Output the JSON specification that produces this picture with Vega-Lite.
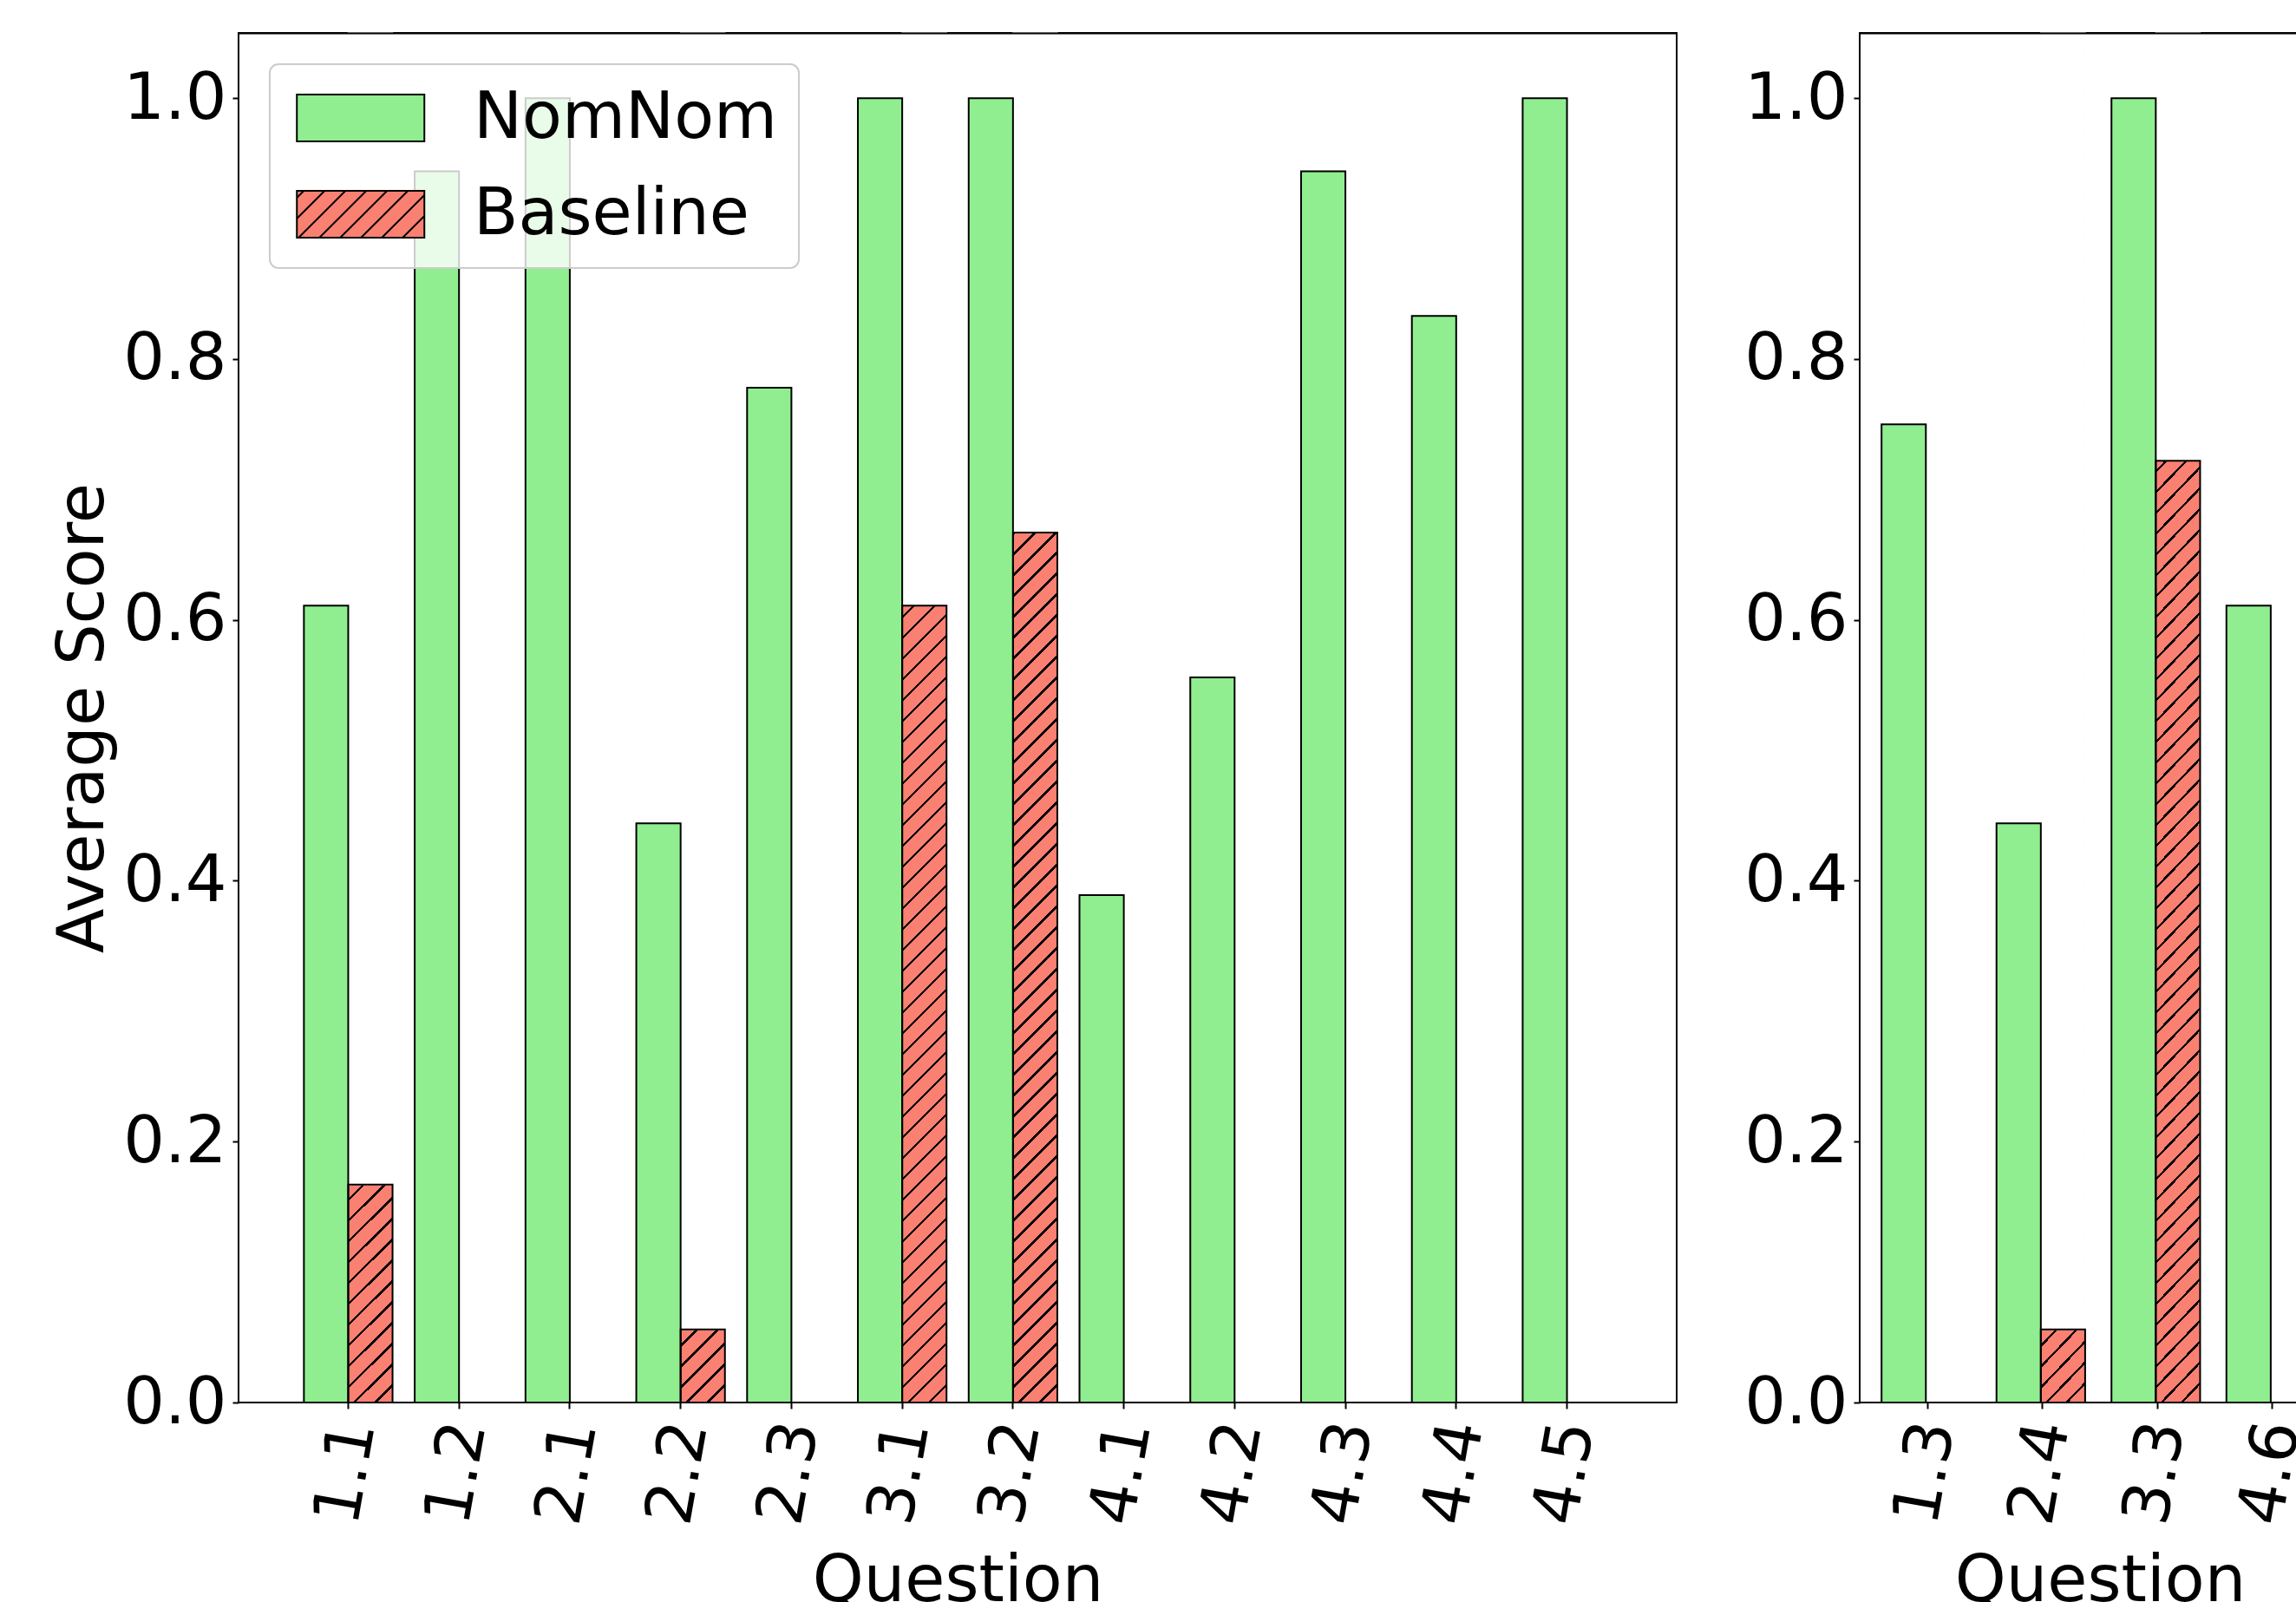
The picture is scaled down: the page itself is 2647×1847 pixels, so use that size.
{
  "$schema": "https://vega.github.io/schema/vega-lite/v6.json",
  "background": "white",
  "padding": {"left": 57, "top": 36, "right": 5, "bottom": 5},
  "datasets": {
    "scores": [
      {"panel": "A", "question": "1.1", "method": "NomNom", "score": 0.611},
      {"panel": "A", "question": "1.1", "method": "Baseline", "score": 0.167},
      {"panel": "A", "question": "1.2", "method": "NomNom", "score": 0.944},
      {"panel": "A", "question": "1.2", "method": "Baseline", "score": 0},
      {"panel": "A", "question": "2.1", "method": "NomNom", "score": 1.0},
      {"panel": "A", "question": "2.1", "method": "Baseline", "score": 0},
      {"panel": "A", "question": "2.2", "method": "NomNom", "score": 0.444},
      {"panel": "A", "question": "2.2", "method": "Baseline", "score": 0.056},
      {"panel": "A", "question": "2.3", "method": "NomNom", "score": 0.778},
      {"panel": "A", "question": "2.3", "method": "Baseline", "score": 0},
      {"panel": "A", "question": "3.1", "method": "NomNom", "score": 1.0},
      {"panel": "A", "question": "3.1", "method": "Baseline", "score": 0.611},
      {"panel": "A", "question": "3.2", "method": "NomNom", "score": 1.0},
      {"panel": "A", "question": "3.2", "method": "Baseline", "score": 0.667},
      {"panel": "A", "question": "4.1", "method": "NomNom", "score": 0.389},
      {"panel": "A", "question": "4.1", "method": "Baseline", "score": 0},
      {"panel": "A", "question": "4.2", "method": "NomNom", "score": 0.556},
      {"panel": "A", "question": "4.2", "method": "Baseline", "score": 0},
      {"panel": "A", "question": "4.3", "method": "NomNom", "score": 0.944},
      {"panel": "A", "question": "4.3", "method": "Baseline", "score": 0},
      {"panel": "A", "question": "4.4", "method": "NomNom", "score": 0.833},
      {"panel": "A", "question": "4.4", "method": "Baseline", "score": 0},
      {"panel": "A", "question": "4.5", "method": "NomNom", "score": 1.0},
      {"panel": "A", "question": "4.5", "method": "Baseline", "score": 0},
      {"panel": "B", "question": "1.3", "method": "NomNom", "score": 0.75},
      {"panel": "B", "question": "1.3", "method": "Baseline", "score": 0},
      {"panel": "B", "question": "2.4", "method": "NomNom", "score": 0.444},
      {"panel": "B", "question": "2.4", "method": "Baseline", "score": 0.056},
      {"panel": "B", "question": "3.3", "method": "NomNom", "score": 1.0},
      {"panel": "B", "question": "3.3", "method": "Baseline", "score": 0.722},
      {"panel": "B", "question": "4.6", "method": "NomNom", "score": 0.611},
      {"panel": "B", "question": "4.6", "method": "Baseline", "score": 0}
    ]
  },
  "hconcat": [
    {
      "width": 1658,
      "height": 1579,
      "data": {"name": "scores"},
      "transform": [{"filter": "datum.panel === 'A'"}],
      "layer": [
        {
          "transform": [{"filter": "datum.method === 'Baseline' && datum.score > 0"}],
          "mark": {"type": "bar", "strokeWidth": 0, "fill": {
          "gradient": "linear", "x1": 0, "y1": 0, "x2": 0.03337, "y2": 1.03249,
          "stops": [
{"offset":0,"color":"#000"},{"offset":0.00215,"color":"#000"},{"offset":0.00215,"color":"#fa8072"},{"offset":0.01471,"color":"#fa8072"},
{"offset":0.01471,"color":"#000"},{"offset":0.01686,"color":"#000"},{"offset":0.01686,"color":"#fa8072"},{"offset":0.02941,"color":"#fa8072"},
{"offset":0.02941,"color":"#000"},{"offset":0.03156,"color":"#000"},{"offset":0.03156,"color":"#fa8072"},{"offset":0.04412,"color":"#fa8072"},
{"offset":0.04412,"color":"#000"},{"offset":0.04627,"color":"#000"},{"offset":0.04627,"color":"#fa8072"},{"offset":0.05882,"color":"#fa8072"},
{"offset":0.05882,"color":"#000"},{"offset":0.06097,"color":"#000"},{"offset":0.06097,"color":"#fa8072"},{"offset":0.07353,"color":"#fa8072"},
{"offset":0.07353,"color":"#000"},{"offset":0.07568,"color":"#000"},{"offset":0.07568,"color":"#fa8072"},{"offset":0.08824,"color":"#fa8072"},
{"offset":0.08824,"color":"#000"},{"offset":0.09039,"color":"#000"},{"offset":0.09039,"color":"#fa8072"},{"offset":0.10294,"color":"#fa8072"},
{"offset":0.10294,"color":"#000"},{"offset":0.10509,"color":"#000"},{"offset":0.10509,"color":"#fa8072"},{"offset":0.11765,"color":"#fa8072"},
{"offset":0.11765,"color":"#000"},{"offset":0.1198,"color":"#000"},{"offset":0.1198,"color":"#fa8072"},{"offset":0.13235,"color":"#fa8072"},
{"offset":0.13235,"color":"#000"},{"offset":0.1345,"color":"#000"},{"offset":0.1345,"color":"#fa8072"},{"offset":0.14706,"color":"#fa8072"},
{"offset":0.14706,"color":"#000"},{"offset":0.14921,"color":"#000"},{"offset":0.14921,"color":"#fa8072"},{"offset":0.16176,"color":"#fa8072"},
{"offset":0.16176,"color":"#000"},{"offset":0.16391,"color":"#000"},{"offset":0.16391,"color":"#fa8072"},{"offset":0.17647,"color":"#fa8072"},
{"offset":0.17647,"color":"#000"},{"offset":0.17862,"color":"#000"},{"offset":0.17862,"color":"#fa8072"},{"offset":0.19118,"color":"#fa8072"},
{"offset":0.19118,"color":"#000"},{"offset":0.19333,"color":"#000"},{"offset":0.19333,"color":"#fa8072"},{"offset":0.20588,"color":"#fa8072"},
{"offset":0.20588,"color":"#000"},{"offset":0.20803,"color":"#000"},{"offset":0.20803,"color":"#fa8072"},{"offset":0.22059,"color":"#fa8072"},
{"offset":0.22059,"color":"#000"},{"offset":0.22274,"color":"#000"},{"offset":0.22274,"color":"#fa8072"},{"offset":0.23529,"color":"#fa8072"},
{"offset":0.23529,"color":"#000"},{"offset":0.23744,"color":"#000"},{"offset":0.23744,"color":"#fa8072"},{"offset":0.25,"color":"#fa8072"},
{"offset":0.25,"color":"#000"},{"offset":0.25215,"color":"#000"},{"offset":0.25215,"color":"#fa8072"},{"offset":0.26471,"color":"#fa8072"},
{"offset":0.26471,"color":"#000"},{"offset":0.26686,"color":"#000"},{"offset":0.26686,"color":"#fa8072"},{"offset":0.27941,"color":"#fa8072"},
{"offset":0.27941,"color":"#000"},{"offset":0.28156,"color":"#000"},{"offset":0.28156,"color":"#fa8072"},{"offset":0.29412,"color":"#fa8072"},
{"offset":0.29412,"color":"#000"},{"offset":0.29627,"color":"#000"},{"offset":0.29627,"color":"#fa8072"},{"offset":0.30882,"color":"#fa8072"},
{"offset":0.30882,"color":"#000"},{"offset":0.31097,"color":"#000"},{"offset":0.31097,"color":"#fa8072"},{"offset":0.32353,"color":"#fa8072"},
{"offset":0.32353,"color":"#000"},{"offset":0.32568,"color":"#000"},{"offset":0.32568,"color":"#fa8072"},{"offset":0.33824,"color":"#fa8072"},
{"offset":0.33824,"color":"#000"},{"offset":0.34039,"color":"#000"},{"offset":0.34039,"color":"#fa8072"},{"offset":0.35294,"color":"#fa8072"},
{"offset":0.35294,"color":"#000"},{"offset":0.35509,"color":"#000"},{"offset":0.35509,"color":"#fa8072"},{"offset":0.36765,"color":"#fa8072"},
{"offset":0.36765,"color":"#000"},{"offset":0.3698,"color":"#000"},{"offset":0.3698,"color":"#fa8072"},{"offset":0.38235,"color":"#fa8072"},
{"offset":0.38235,"color":"#000"},{"offset":0.3845,"color":"#000"},{"offset":0.3845,"color":"#fa8072"},{"offset":0.39706,"color":"#fa8072"},
{"offset":0.39706,"color":"#000"},{"offset":0.39921,"color":"#000"},{"offset":0.39921,"color":"#fa8072"},{"offset":0.41176,"color":"#fa8072"},
{"offset":0.41176,"color":"#000"},{"offset":0.41391,"color":"#000"},{"offset":0.41391,"color":"#fa8072"},{"offset":0.42647,"color":"#fa8072"},
{"offset":0.42647,"color":"#000"},{"offset":0.42862,"color":"#000"},{"offset":0.42862,"color":"#fa8072"},{"offset":0.44118,"color":"#fa8072"},
{"offset":0.44118,"color":"#000"},{"offset":0.44333,"color":"#000"},{"offset":0.44333,"color":"#fa8072"},{"offset":0.45588,"color":"#fa8072"},
{"offset":0.45588,"color":"#000"},{"offset":0.45803,"color":"#000"},{"offset":0.45803,"color":"#fa8072"},{"offset":0.47059,"color":"#fa8072"},
{"offset":0.47059,"color":"#000"},{"offset":0.47274,"color":"#000"},{"offset":0.47274,"color":"#fa8072"},{"offset":0.48529,"color":"#fa8072"},
{"offset":0.48529,"color":"#000"},{"offset":0.48744,"color":"#000"},{"offset":0.48744,"color":"#fa8072"},{"offset":0.5,"color":"#fa8072"},
{"offset":0.5,"color":"#000"},{"offset":0.50215,"color":"#000"},{"offset":0.50215,"color":"#fa8072"},{"offset":0.51471,"color":"#fa8072"},
{"offset":0.51471,"color":"#000"},{"offset":0.51686,"color":"#000"},{"offset":0.51686,"color":"#fa8072"},{"offset":0.52941,"color":"#fa8072"},
{"offset":0.52941,"color":"#000"},{"offset":0.53156,"color":"#000"},{"offset":0.53156,"color":"#fa8072"},{"offset":0.54412,"color":"#fa8072"},
{"offset":0.54412,"color":"#000"},{"offset":0.54627,"color":"#000"},{"offset":0.54627,"color":"#fa8072"},{"offset":0.55882,"color":"#fa8072"},
{"offset":0.55882,"color":"#000"},{"offset":0.56097,"color":"#000"},{"offset":0.56097,"color":"#fa8072"},{"offset":0.57353,"color":"#fa8072"},
{"offset":0.57353,"color":"#000"},{"offset":0.57568,"color":"#000"},{"offset":0.57568,"color":"#fa8072"},{"offset":0.58824,"color":"#fa8072"},
{"offset":0.58824,"color":"#000"},{"offset":0.59039,"color":"#000"},{"offset":0.59039,"color":"#fa8072"},{"offset":0.60294,"color":"#fa8072"},
{"offset":0.60294,"color":"#000"},{"offset":0.60509,"color":"#000"},{"offset":0.60509,"color":"#fa8072"},{"offset":0.61765,"color":"#fa8072"},
{"offset":0.61765,"color":"#000"},{"offset":0.6198,"color":"#000"},{"offset":0.6198,"color":"#fa8072"},{"offset":0.63235,"color":"#fa8072"},
{"offset":0.63235,"color":"#000"},{"offset":0.6345,"color":"#000"},{"offset":0.6345,"color":"#fa8072"},{"offset":0.64706,"color":"#fa8072"},
{"offset":0.64706,"color":"#000"},{"offset":0.64921,"color":"#000"},{"offset":0.64921,"color":"#fa8072"},{"offset":0.66176,"color":"#fa8072"},
{"offset":0.66176,"color":"#000"},{"offset":0.66391,"color":"#000"},{"offset":0.66391,"color":"#fa8072"},{"offset":0.67647,"color":"#fa8072"},
{"offset":0.67647,"color":"#000"},{"offset":0.67862,"color":"#000"},{"offset":0.67862,"color":"#fa8072"},{"offset":0.69118,"color":"#fa8072"},
{"offset":0.69118,"color":"#000"},{"offset":0.69333,"color":"#000"},{"offset":0.69333,"color":"#fa8072"},{"offset":0.70588,"color":"#fa8072"},
{"offset":0.70588,"color":"#000"},{"offset":0.70803,"color":"#000"},{"offset":0.70803,"color":"#fa8072"},{"offset":0.72059,"color":"#fa8072"},
{"offset":0.72059,"color":"#000"},{"offset":0.72274,"color":"#000"},{"offset":0.72274,"color":"#fa8072"},{"offset":0.73529,"color":"#fa8072"},
{"offset":0.73529,"color":"#000"},{"offset":0.73744,"color":"#000"},{"offset":0.73744,"color":"#fa8072"},{"offset":0.75,"color":"#fa8072"},
{"offset":0.75,"color":"#000"},{"offset":0.75215,"color":"#000"},{"offset":0.75215,"color":"#fa8072"},{"offset":0.76471,"color":"#fa8072"},
{"offset":0.76471,"color":"#000"},{"offset":0.76686,"color":"#000"},{"offset":0.76686,"color":"#fa8072"},{"offset":0.77941,"color":"#fa8072"},
{"offset":0.77941,"color":"#000"},{"offset":0.78156,"color":"#000"},{"offset":0.78156,"color":"#fa8072"},{"offset":0.79412,"color":"#fa8072"},
{"offset":0.79412,"color":"#000"},{"offset":0.79627,"color":"#000"},{"offset":0.79627,"color":"#fa8072"},{"offset":0.80882,"color":"#fa8072"},
{"offset":0.80882,"color":"#000"},{"offset":0.81097,"color":"#000"},{"offset":0.81097,"color":"#fa8072"},{"offset":0.82353,"color":"#fa8072"},
{"offset":0.82353,"color":"#000"},{"offset":0.82568,"color":"#000"},{"offset":0.82568,"color":"#fa8072"},{"offset":0.83824,"color":"#fa8072"},
{"offset":0.83824,"color":"#000"},{"offset":0.84039,"color":"#000"},{"offset":0.84039,"color":"#fa8072"},{"offset":0.85294,"color":"#fa8072"},
{"offset":0.85294,"color":"#000"},{"offset":0.85509,"color":"#000"},{"offset":0.85509,"color":"#fa8072"},{"offset":0.86765,"color":"#fa8072"},
{"offset":0.86765,"color":"#000"},{"offset":0.8698,"color":"#000"},{"offset":0.8698,"color":"#fa8072"},{"offset":0.88235,"color":"#fa8072"},
{"offset":0.88235,"color":"#000"},{"offset":0.8845,"color":"#000"},{"offset":0.8845,"color":"#fa8072"},{"offset":0.89706,"color":"#fa8072"},
{"offset":0.89706,"color":"#000"},{"offset":0.89921,"color":"#000"},{"offset":0.89921,"color":"#fa8072"},{"offset":0.91176,"color":"#fa8072"},
{"offset":0.91176,"color":"#000"},{"offset":0.91391,"color":"#000"},{"offset":0.91391,"color":"#fa8072"},{"offset":0.92647,"color":"#fa8072"},
{"offset":0.92647,"color":"#000"},{"offset":0.92862,"color":"#000"},{"offset":0.92862,"color":"#fa8072"},{"offset":0.94118,"color":"#fa8072"},
{"offset":0.94118,"color":"#000"},{"offset":0.94333,"color":"#000"},{"offset":0.94333,"color":"#fa8072"},{"offset":0.95588,"color":"#fa8072"},
{"offset":0.95588,"color":"#000"},{"offset":0.95803,"color":"#000"},{"offset":0.95803,"color":"#fa8072"},{"offset":0.97059,"color":"#fa8072"},
{"offset":0.97059,"color":"#000"},{"offset":0.97274,"color":"#000"},{"offset":0.97274,"color":"#fa8072"},{"offset":0.98529,"color":"#fa8072"},
{"offset":0.98529,"color":"#000"},{"offset":0.98744,"color":"#000"},{"offset":0.98744,"color":"#fa8072"},{"offset":1,"color":"#fa8072"}
          ]}},
          "encoding": {
            "x": {"field": "question", "type": "nominal", "scale": {"domain": ["1.1","1.2","2.1","2.2","2.3","3.1","3.2","4.1","4.2","4.3","4.4","4.5"], "paddingInner": 0.2, "paddingOuter": 0.59}, "axis": null},
            "xOffset": {"field": "method", "type": "nominal", "scale": {"domain": ["NomNom","Baseline"], "paddingInner": 0, "paddingOuter": 0}},
            "y": {"datum": 1.05, "type": "quantitative", "scale": {"domain": [0, 1.05], "nice": false}, "axis": {"title": "Average Score", "values": [0, 0.2, 0.4, 0.6, 0.8, 1.0], "format": ".1f", "domain": false, "zindex": 1}},
            "y2": {"datum": 0}
          }
        },
        {
          "transform": [{"filter": "datum.method === 'Baseline' && datum.score > 0"}],
          "mark": {"type": "bar", "fill": "white", "stroke": "white", "strokeWidth": 1.5},
          "encoding": {
            "x": {"field": "question", "type": "nominal", "axis": null},
            "xOffset": {"field": "method", "type": "nominal"},
            "y": {"field": "score", "type": "quantitative", "axis": {"title": "Average Score", "values": [0, 0.2, 0.4, 0.6, 0.8, 1.0], "format": ".1f", "domain": false, "zindex": 1}},
            "y2": {"datum": 1.05}
          }
        },
        {
          "transform": [{"filter": "datum.method === 'NomNom'"}],
          "mark": {"type": "bar", "stroke": "black", "strokeWidth": 2},
          "encoding": {
            "x": {"field": "question", "type": "nominal", "axis": {"orient": "bottom", "title": "Question", "domain": false, "bandPosition": 0.5, "zindex": 1}},
            "xOffset": {"field": "method", "type": "nominal"},
            "y": {"field": "score", "type": "quantitative", "axis": {"title": "Average Score", "values": [0, 0.2, 0.4, 0.6, 0.8, 1.0], "format": ".1f", "domain": false, "zindex": 1}},
            "fill": {"field": "method", "type": "nominal", "scale": {"domain": ["NomNom","Baseline"], "range": ["#90ee90","#fa8072"]}, "legend": {"title": null, "encode": {"symbols": {"update": {"stroke": {"value": "black"}, "strokeWidth": {"value": 2}, "opacity": {"value": 1}}}}}}
          }
        },
        {
          "transform": [{"filter": "datum.method === 'Baseline'"}],
          "mark": {"type": "bar", "fill": "transparent", "stroke": "black", "strokeWidth": 2},
          "encoding": {
            "x": {"field": "question", "type": "nominal", "axis": {"orient": "top", "labels": false, "ticks": false, "title": null, "domain": true, "domainColor": "black", "domainWidth": 2, "zindex": 1}},
            "xOffset": {"field": "method", "type": "nominal"},
            "y": {"field": "score", "type": "quantitative", "axis": {"title": "Average Score", "values": [0, 0.2, 0.4, 0.6, 0.8, 1.0], "format": ".1f", "domain": false, "zindex": 1}}
          }
        },
        {
          "mark": {"type": "point", "filled": true, "size": 0, "strokeWidth": 0},
          "encoding": {
            "x": {"field": "question", "type": "nominal", "axis": null},
            "xOffset": {"field": "method", "type": "nominal"},
            "y": {"datum": 0, "type": "quantitative", "axis": {"title": "Average Score", "values": [0, 0.2, 0.4, 0.6, 0.8, 1.0], "format": ".1f", "domain": false, "zindex": 1}},
            "fill": {"field": "method", "type": "nominal", "legend": {"title": null, "encode": {"symbols": {"update": {"stroke": {"value": "black"}, "strokeWidth": {"value": 2}, "opacity": {"value": 1}}}}}},
            "shape": {"field": "method", "type": "nominal", "scale": {"domain": ["NomNom","Baseline"], "range": ["M-0.8367,-0.7347H3.1633V0.7347H-0.8367Z", "M-0.8367,-0.7347H3.1633V0.7347H-0.8367Z M-0.8367,-0.517L-0.619,-0.7347 M-0.8367,0.136L0.034,-0.7347 M-0.7823,0.7347L0.6871,-0.7347 M-0.1293,0.7347L1.3401,-0.7347 M0.5238,0.7347L1.9932,-0.7347 M1.1769,0.7347L2.6463,-0.7347 M1.8299,0.7347L3.1633,-0.5986 M2.483,0.7347L3.1633,0.0544"]}, "legend": {"title": null, "encode": {"symbols": {"update": {"stroke": {"value": "black"}, "strokeWidth": {"value": 2}, "opacity": {"value": 1}}}}}}
          }
        }
      ],
      "resolve": {"axis": {"x": "independent"}}
    },
    {
      "width": 554,
      "height": 1579,
      "data": {"name": "scores"},
      "transform": [{"filter": "datum.panel === 'B'"}],
      "layer": [
        {
          "transform": [{"filter": "datum.method === 'Baseline' && datum.score > 0"}],
          "mark": {"type": "bar", "strokeWidth": 0, "fill": {
          "gradient": "linear", "x1": 0, "y1": 0, "x2": 0.03468, "y2": 1.0324,
          "stops": [
{"offset":0,"color":"#000"},{"offset":0.00215,"color":"#000"},{"offset":0.00215,"color":"#fa8072"},{"offset":0.01471,"color":"#fa8072"},
{"offset":0.01471,"color":"#000"},{"offset":0.01686,"color":"#000"},{"offset":0.01686,"color":"#fa8072"},{"offset":0.02941,"color":"#fa8072"},
{"offset":0.02941,"color":"#000"},{"offset":0.03156,"color":"#000"},{"offset":0.03156,"color":"#fa8072"},{"offset":0.04412,"color":"#fa8072"},
{"offset":0.04412,"color":"#000"},{"offset":0.04627,"color":"#000"},{"offset":0.04627,"color":"#fa8072"},{"offset":0.05882,"color":"#fa8072"},
{"offset":0.05882,"color":"#000"},{"offset":0.06097,"color":"#000"},{"offset":0.06097,"color":"#fa8072"},{"offset":0.07353,"color":"#fa8072"},
{"offset":0.07353,"color":"#000"},{"offset":0.07568,"color":"#000"},{"offset":0.07568,"color":"#fa8072"},{"offset":0.08824,"color":"#fa8072"},
{"offset":0.08824,"color":"#000"},{"offset":0.09039,"color":"#000"},{"offset":0.09039,"color":"#fa8072"},{"offset":0.10294,"color":"#fa8072"},
{"offset":0.10294,"color":"#000"},{"offset":0.10509,"color":"#000"},{"offset":0.10509,"color":"#fa8072"},{"offset":0.11765,"color":"#fa8072"},
{"offset":0.11765,"color":"#000"},{"offset":0.1198,"color":"#000"},{"offset":0.1198,"color":"#fa8072"},{"offset":0.13235,"color":"#fa8072"},
{"offset":0.13235,"color":"#000"},{"offset":0.1345,"color":"#000"},{"offset":0.1345,"color":"#fa8072"},{"offset":0.14706,"color":"#fa8072"},
{"offset":0.14706,"color":"#000"},{"offset":0.14921,"color":"#000"},{"offset":0.14921,"color":"#fa8072"},{"offset":0.16176,"color":"#fa8072"},
{"offset":0.16176,"color":"#000"},{"offset":0.16391,"color":"#000"},{"offset":0.16391,"color":"#fa8072"},{"offset":0.17647,"color":"#fa8072"},
{"offset":0.17647,"color":"#000"},{"offset":0.17862,"color":"#000"},{"offset":0.17862,"color":"#fa8072"},{"offset":0.19118,"color":"#fa8072"},
{"offset":0.19118,"color":"#000"},{"offset":0.19333,"color":"#000"},{"offset":0.19333,"color":"#fa8072"},{"offset":0.20588,"color":"#fa8072"},
{"offset":0.20588,"color":"#000"},{"offset":0.20803,"color":"#000"},{"offset":0.20803,"color":"#fa8072"},{"offset":0.22059,"color":"#fa8072"},
{"offset":0.22059,"color":"#000"},{"offset":0.22274,"color":"#000"},{"offset":0.22274,"color":"#fa8072"},{"offset":0.23529,"color":"#fa8072"},
{"offset":0.23529,"color":"#000"},{"offset":0.23744,"color":"#000"},{"offset":0.23744,"color":"#fa8072"},{"offset":0.25,"color":"#fa8072"},
{"offset":0.25,"color":"#000"},{"offset":0.25215,"color":"#000"},{"offset":0.25215,"color":"#fa8072"},{"offset":0.26471,"color":"#fa8072"},
{"offset":0.26471,"color":"#000"},{"offset":0.26686,"color":"#000"},{"offset":0.26686,"color":"#fa8072"},{"offset":0.27941,"color":"#fa8072"},
{"offset":0.27941,"color":"#000"},{"offset":0.28156,"color":"#000"},{"offset":0.28156,"color":"#fa8072"},{"offset":0.29412,"color":"#fa8072"},
{"offset":0.29412,"color":"#000"},{"offset":0.29627,"color":"#000"},{"offset":0.29627,"color":"#fa8072"},{"offset":0.30882,"color":"#fa8072"},
{"offset":0.30882,"color":"#000"},{"offset":0.31097,"color":"#000"},{"offset":0.31097,"color":"#fa8072"},{"offset":0.32353,"color":"#fa8072"},
{"offset":0.32353,"color":"#000"},{"offset":0.32568,"color":"#000"},{"offset":0.32568,"color":"#fa8072"},{"offset":0.33824,"color":"#fa8072"},
{"offset":0.33824,"color":"#000"},{"offset":0.34039,"color":"#000"},{"offset":0.34039,"color":"#fa8072"},{"offset":0.35294,"color":"#fa8072"},
{"offset":0.35294,"color":"#000"},{"offset":0.35509,"color":"#000"},{"offset":0.35509,"color":"#fa8072"},{"offset":0.36765,"color":"#fa8072"},
{"offset":0.36765,"color":"#000"},{"offset":0.3698,"color":"#000"},{"offset":0.3698,"color":"#fa8072"},{"offset":0.38235,"color":"#fa8072"},
{"offset":0.38235,"color":"#000"},{"offset":0.3845,"color":"#000"},{"offset":0.3845,"color":"#fa8072"},{"offset":0.39706,"color":"#fa8072"},
{"offset":0.39706,"color":"#000"},{"offset":0.39921,"color":"#000"},{"offset":0.39921,"color":"#fa8072"},{"offset":0.41176,"color":"#fa8072"},
{"offset":0.41176,"color":"#000"},{"offset":0.41391,"color":"#000"},{"offset":0.41391,"color":"#fa8072"},{"offset":0.42647,"color":"#fa8072"},
{"offset":0.42647,"color":"#000"},{"offset":0.42862,"color":"#000"},{"offset":0.42862,"color":"#fa8072"},{"offset":0.44118,"color":"#fa8072"},
{"offset":0.44118,"color":"#000"},{"offset":0.44333,"color":"#000"},{"offset":0.44333,"color":"#fa8072"},{"offset":0.45588,"color":"#fa8072"},
{"offset":0.45588,"color":"#000"},{"offset":0.45803,"color":"#000"},{"offset":0.45803,"color":"#fa8072"},{"offset":0.47059,"color":"#fa8072"},
{"offset":0.47059,"color":"#000"},{"offset":0.47274,"color":"#000"},{"offset":0.47274,"color":"#fa8072"},{"offset":0.48529,"color":"#fa8072"},
{"offset":0.48529,"color":"#000"},{"offset":0.48744,"color":"#000"},{"offset":0.48744,"color":"#fa8072"},{"offset":0.5,"color":"#fa8072"},
{"offset":0.5,"color":"#000"},{"offset":0.50215,"color":"#000"},{"offset":0.50215,"color":"#fa8072"},{"offset":0.51471,"color":"#fa8072"},
{"offset":0.51471,"color":"#000"},{"offset":0.51686,"color":"#000"},{"offset":0.51686,"color":"#fa8072"},{"offset":0.52941,"color":"#fa8072"},
{"offset":0.52941,"color":"#000"},{"offset":0.53156,"color":"#000"},{"offset":0.53156,"color":"#fa8072"},{"offset":0.54412,"color":"#fa8072"},
{"offset":0.54412,"color":"#000"},{"offset":0.54627,"color":"#000"},{"offset":0.54627,"color":"#fa8072"},{"offset":0.55882,"color":"#fa8072"},
{"offset":0.55882,"color":"#000"},{"offset":0.56097,"color":"#000"},{"offset":0.56097,"color":"#fa8072"},{"offset":0.57353,"color":"#fa8072"},
{"offset":0.57353,"color":"#000"},{"offset":0.57568,"color":"#000"},{"offset":0.57568,"color":"#fa8072"},{"offset":0.58824,"color":"#fa8072"},
{"offset":0.58824,"color":"#000"},{"offset":0.59039,"color":"#000"},{"offset":0.59039,"color":"#fa8072"},{"offset":0.60294,"color":"#fa8072"},
{"offset":0.60294,"color":"#000"},{"offset":0.60509,"color":"#000"},{"offset":0.60509,"color":"#fa8072"},{"offset":0.61765,"color":"#fa8072"},
{"offset":0.61765,"color":"#000"},{"offset":0.6198,"color":"#000"},{"offset":0.6198,"color":"#fa8072"},{"offset":0.63235,"color":"#fa8072"},
{"offset":0.63235,"color":"#000"},{"offset":0.6345,"color":"#000"},{"offset":0.6345,"color":"#fa8072"},{"offset":0.64706,"color":"#fa8072"},
{"offset":0.64706,"color":"#000"},{"offset":0.64921,"color":"#000"},{"offset":0.64921,"color":"#fa8072"},{"offset":0.66176,"color":"#fa8072"},
{"offset":0.66176,"color":"#000"},{"offset":0.66391,"color":"#000"},{"offset":0.66391,"color":"#fa8072"},{"offset":0.67647,"color":"#fa8072"},
{"offset":0.67647,"color":"#000"},{"offset":0.67862,"color":"#000"},{"offset":0.67862,"color":"#fa8072"},{"offset":0.69118,"color":"#fa8072"},
{"offset":0.69118,"color":"#000"},{"offset":0.69333,"color":"#000"},{"offset":0.69333,"color":"#fa8072"},{"offset":0.70588,"color":"#fa8072"},
{"offset":0.70588,"color":"#000"},{"offset":0.70803,"color":"#000"},{"offset":0.70803,"color":"#fa8072"},{"offset":0.72059,"color":"#fa8072"},
{"offset":0.72059,"color":"#000"},{"offset":0.72274,"color":"#000"},{"offset":0.72274,"color":"#fa8072"},{"offset":0.73529,"color":"#fa8072"},
{"offset":0.73529,"color":"#000"},{"offset":0.73744,"color":"#000"},{"offset":0.73744,"color":"#fa8072"},{"offset":0.75,"color":"#fa8072"},
{"offset":0.75,"color":"#000"},{"offset":0.75215,"color":"#000"},{"offset":0.75215,"color":"#fa8072"},{"offset":0.76471,"color":"#fa8072"},
{"offset":0.76471,"color":"#000"},{"offset":0.76686,"color":"#000"},{"offset":0.76686,"color":"#fa8072"},{"offset":0.77941,"color":"#fa8072"},
{"offset":0.77941,"color":"#000"},{"offset":0.78156,"color":"#000"},{"offset":0.78156,"color":"#fa8072"},{"offset":0.79412,"color":"#fa8072"},
{"offset":0.79412,"color":"#000"},{"offset":0.79627,"color":"#000"},{"offset":0.79627,"color":"#fa8072"},{"offset":0.80882,"color":"#fa8072"},
{"offset":0.80882,"color":"#000"},{"offset":0.81097,"color":"#000"},{"offset":0.81097,"color":"#fa8072"},{"offset":0.82353,"color":"#fa8072"},
{"offset":0.82353,"color":"#000"},{"offset":0.82568,"color":"#000"},{"offset":0.82568,"color":"#fa8072"},{"offset":0.83824,"color":"#fa8072"},
{"offset":0.83824,"color":"#000"},{"offset":0.84039,"color":"#000"},{"offset":0.84039,"color":"#fa8072"},{"offset":0.85294,"color":"#fa8072"},
{"offset":0.85294,"color":"#000"},{"offset":0.85509,"color":"#000"},{"offset":0.85509,"color":"#fa8072"},{"offset":0.86765,"color":"#fa8072"},
{"offset":0.86765,"color":"#000"},{"offset":0.8698,"color":"#000"},{"offset":0.8698,"color":"#fa8072"},{"offset":0.88235,"color":"#fa8072"},
{"offset":0.88235,"color":"#000"},{"offset":0.8845,"color":"#000"},{"offset":0.8845,"color":"#fa8072"},{"offset":0.89706,"color":"#fa8072"},
{"offset":0.89706,"color":"#000"},{"offset":0.89921,"color":"#000"},{"offset":0.89921,"color":"#fa8072"},{"offset":0.91176,"color":"#fa8072"},
{"offset":0.91176,"color":"#000"},{"offset":0.91391,"color":"#000"},{"offset":0.91391,"color":"#fa8072"},{"offset":0.92647,"color":"#fa8072"},
{"offset":0.92647,"color":"#000"},{"offset":0.92862,"color":"#000"},{"offset":0.92862,"color":"#fa8072"},{"offset":0.94118,"color":"#fa8072"},
{"offset":0.94118,"color":"#000"},{"offset":0.94333,"color":"#000"},{"offset":0.94333,"color":"#fa8072"},{"offset":0.95588,"color":"#fa8072"},
{"offset":0.95588,"color":"#000"},{"offset":0.95803,"color":"#000"},{"offset":0.95803,"color":"#fa8072"},{"offset":0.97059,"color":"#fa8072"},
{"offset":0.97059,"color":"#000"},{"offset":0.97274,"color":"#000"},{"offset":0.97274,"color":"#fa8072"},{"offset":0.98529,"color":"#fa8072"},
{"offset":0.98529,"color":"#000"},{"offset":0.98744,"color":"#000"},{"offset":0.98744,"color":"#fa8072"},{"offset":1,"color":"#fa8072"}
          ]}},
          "encoding": {
            "x": {"field": "question", "type": "nominal", "scale": {"domain": ["1.3","2.4","3.3","4.6"], "paddingInner": 0.2, "paddingOuter": 0.19}, "axis": null},
            "xOffset": {"field": "method", "type": "nominal", "scale": {"domain": ["NomNom","Baseline"], "paddingInner": 0, "paddingOuter": 0}},
            "y": {"datum": 1.05, "type": "quantitative", "scale": {"domain": [0, 1.05], "nice": false}, "axis": {"title": null, "values": [0, 0.2, 0.4, 0.6, 0.8, 1.0], "format": ".1f", "domain": false, "zindex": 1}},
            "y2": {"datum": 0}
          }
        },
        {
          "transform": [{"filter": "datum.method === 'Baseline' && datum.score > 0"}],
          "mark": {"type": "bar", "fill": "white", "stroke": "white", "strokeWidth": 1.5},
          "encoding": {
            "x": {"field": "question", "type": "nominal", "axis": null},
            "xOffset": {"field": "method", "type": "nominal"},
            "y": {"field": "score", "type": "quantitative", "axis": {"title": null, "values": [0, 0.2, 0.4, 0.6, 0.8, 1.0], "format": ".1f", "domain": false, "zindex": 1}},
            "y2": {"datum": 1.05}
          }
        },
        {
          "transform": [{"filter": "datum.method === 'NomNom'"}],
          "mark": {"type": "bar", "fill": "#90ee90", "stroke": "black", "strokeWidth": 2},
          "encoding": {
            "x": {"field": "question", "type": "nominal", "axis": {"orient": "bottom", "title": "Question", "domain": false, "bandPosition": 0.5, "zindex": 1}},
            "xOffset": {"field": "method", "type": "nominal"},
            "y": {"field": "score", "type": "quantitative", "axis": {"title": null, "values": [0, 0.2, 0.4, 0.6, 0.8, 1.0], "format": ".1f", "domain": false, "zindex": 1}}
          }
        },
        {
          "transform": [{"filter": "datum.method === 'Baseline'"}],
          "mark": {"type": "bar", "fill": "transparent", "stroke": "black", "strokeWidth": 2},
          "encoding": {
            "x": {"field": "question", "type": "nominal", "axis": {"orient": "top", "labels": false, "ticks": false, "title": null, "domain": true, "domainColor": "black", "domainWidth": 2, "zindex": 1}},
            "xOffset": {"field": "method", "type": "nominal"},
            "y": {"field": "score", "type": "quantitative", "axis": {"title": null, "values": [0, 0.2, 0.4, 0.6, 0.8, 1.0], "format": ".1f", "domain": false, "zindex": 1}}
          }
        }
      ],
      "resolve": {"axis": {"x": "independent"}}
    }
  ],
  "spacing": 211,
  "bounds": "flush",
  "resolve": {"scale": {"fill": "independent", "shape": "independent"}, "legend": {"fill": "independent", "shape": "independent"}},
  "config": {
    "font": "DejaVu Sans",
    "view": {"stroke": "black", "strokeWidth": 2},
    "axis": {
      "grid": false,
      "ticks": true,
      "tickSize": 7,
      "tickWidth": 2,
      "tickColor": "black",
      "labelFont": "DejaVu Sans",
      "labelFontSize": 75,
      "labelColor": "black",
      "labelOverlap": false,
      "labelBound": false,
      "labelFlush": false,
      "titleFont": "DejaVu Sans",
      "titleFontSize": 75,
      "titleFontWeight": "normal",
      "titleColor": "black"
    },
    "axisLeft": {"labelPadding": 7, "titlePadding": 7},
    "axisBottom": {"labelAngle": -80, "labelPadding": 15, "titlePadding": 23, "labelOffset": 8},
    "legend": {
      "orient": "top-left",
      "offset": 36,
      "padding": 24,
      "fillColor": "rgba(255,255,255,0.8)",
      "strokeColor": "#cccccc",
      "strokeWidth": 2,
      "cornerRadius": 10,
      "labelFont": "DejaVu Sans",
      "labelFontSize": 75,
      "labelColor": "black",
      "labelLimit": 1000,
      "labelOffset": 135,
      "symbolSize": 5402,
      "symbolOpacity": 1,
      "symbolStrokeColor": "black",
      "symbolStrokeWidth": 2,
      "rowPadding": 35
    }
  }
}
